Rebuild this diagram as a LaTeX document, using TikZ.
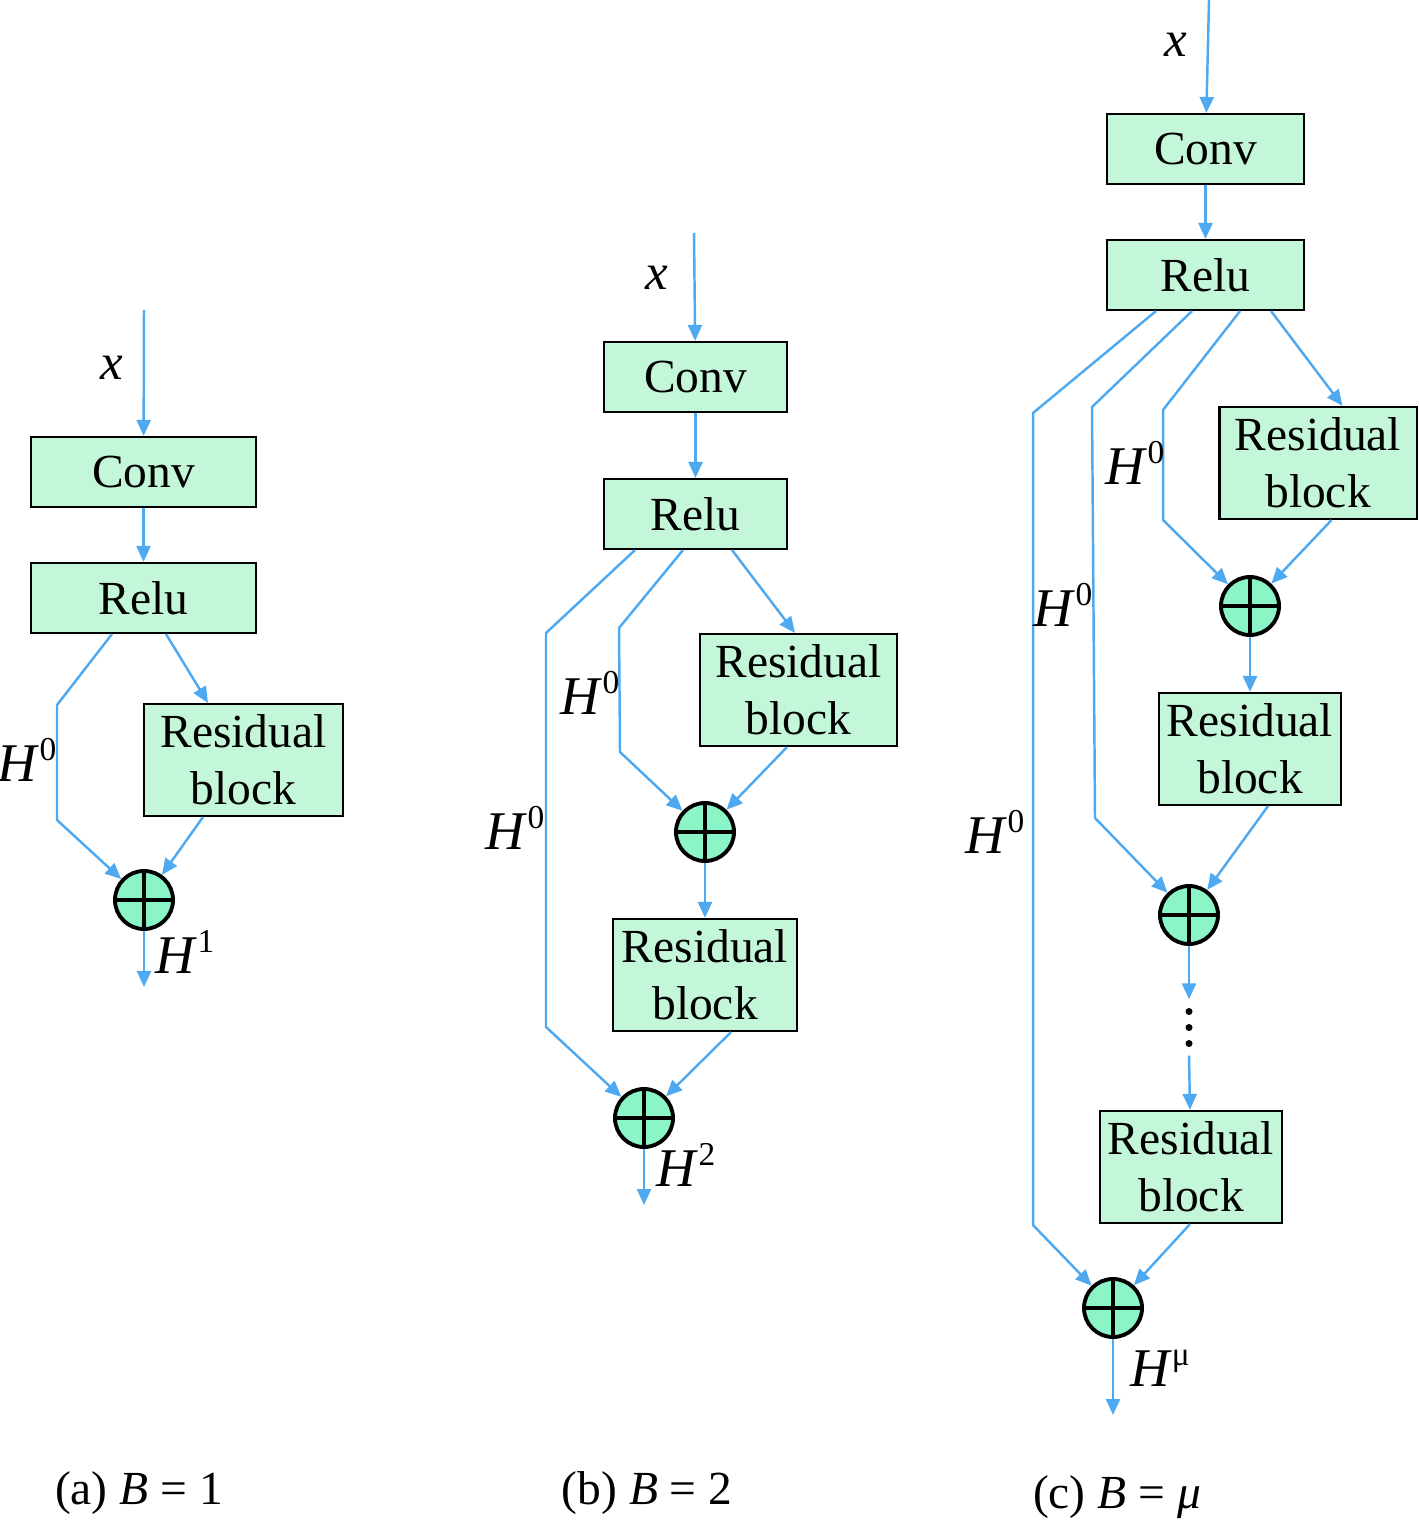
\documentclass[tikz,border=0pt]{standalone}
\usepackage{fontspec}
\setmainfont{Liberation Serif}
\usepackage{tikz}
\usetikzlibrary{arrows.meta, positioning, calc}
\definecolor{flowblue}{HTML}{4FA9F0}
\definecolor{boxgreen}{HTML}{C4F6DA}
\definecolor{addgreen}{HTML}{8CF5C8}
\newcommand{\hsup}[1]{\textit{H}\raisebox{6pt}{\fontsize{9.5}{9.5}\selectfont #1}}

\begin{document}
\begin{tikzpicture}[
    x=0.01cm, y=-0.01cm,
    blockbox/.style={rectangle, draw=black, fill=boxgreen, line width=0.6pt, inner sep=0pt, minimum height=0.7cm, align=center, font=\fontsize{13.5}{16.2}\selectfont},
    adder/.style={circle, draw=black, fill=addgreen, line width=1.1pt, minimum size=0.58cm, inner sep=0pt,
        path picture={\draw[line width=1.1pt] (path picture bounding box.north) -- (path picture bounding box.south) (path picture bounding box.west) -- (path picture bounding box.east);}},
    flow/.style={-{Triangle[length=1.6mm, width=1.4mm]}, line width=0.7pt, color=flowblue},
    lab/.style={inner sep=0pt, font=\fontsize{15.5}{15.5}\selectfont},
    caption/.style={inner sep=0pt, font=\fontsize{13.5}{13.5}\selectfont}
]
\useasboundingbox (0,0) rectangle (1418,1522);

% (a) B = 1
\coordinate (inA) at (144,310);
\coordinate (outA) at (144,987);
\node[lab, font=\fontsize{14.5}{14.5}\selectfont] (xA) at (112,368) {\textit{x}};
\node[blockbox, minimum width=2.25cm] (convA) at (143.5,472) {Conv};
\node[blockbox, minimum width=2.25cm] (reluA) at (143.5,598) {Relu};
\node[blockbox, minimum width=1.99cm, minimum height=1.12cm] (resA) at (243.5,760) {Residual\\block};
\node[adder] (addA) at (144,900) {};

\draw[flow] (inA) -- (convA);
\draw[flow] (convA) -- (reluA);
\draw[flow] ([xshift=-0.315cm]reluA.south) -- (57,705) -- (57,820) -- (addA);
\draw[flow] ([xshift=0.225cm]reluA.south) -- ([xshift=-0.355cm]resA.north);
\draw[flow] ([xshift=-0.405cm]resA.south) -- (addA);
\draw[flow] (addA) -- (outA);
\node[lab] (hA0) at (27,760) {\hsup{0}};
\node[lab] (hA1) at (185,952) {\hsup{1}};

% (b) B = 2
\coordinate (inB) at (694,233);
\coordinate (outB) at (644,1205);
\node[lab, font=\fontsize{14.5}{14.5}\selectfont] (xB) at (657,278) {\textit{x}};
\node[blockbox, minimum width=1.83cm] (convB) at (695.5,377) {Conv};
\node[blockbox, minimum width=1.83cm] (reluB) at (695.5,514) {Relu};
\node[blockbox, minimum width=1.97cm, minimum height=1.12cm] (resB1) at (798.5,690) {Residual\\block};
\node[adder] (addB1) at (705,832) {};
\node[blockbox, minimum width=1.84cm, minimum height=1.12cm] (resB2) at (705,975) {Residual\\block};
\node[adder] (addB2) at (644,1118) {};

\draw[flow] (inB) -- (convB);
\draw[flow] (convB) -- (reluB);
\draw[flow] ([xshift=-0.605cm]reluB.south) -- (546,633) -- (546,1027) -- (addB2);
\draw[flow] ([xshift=-0.125cm]reluB.south) -- (619,628) -- (620,752) -- (addB1);
\draw[flow] ([xshift=0.365cm]reluB.south) -- ([xshift=-0.035cm]resB1.north);
\draw[flow] ([xshift=-0.115cm]resB1.south) -- (addB1);
\draw[flow] (addB1) -- (resB2);
\draw[flow] ([xshift=0.26cm]resB2.south) -- (addB2);
\draw[flow] (addB2) -- (outB);
\node[lab] (hB1) at (590,693) {\hsup{0}};
\node[lab] (hB2) at (515,828) {\hsup{0}};
\node[lab] (hB3) at (686,1165) {\hsup{2}};

% (c) B = mu
\coordinate (inC) at (1209,0);
\coordinate (outC) at (1113,1415);
\node[lab, font=\fontsize{14.5}{14.5}\selectfont] (xC) at (1176,45) {\textit{x}};
\node[blockbox, minimum width=1.97cm] (convC) at (1205.5,149) {Conv};
\node[blockbox, minimum width=1.97cm] (reluC) at (1205.5,275) {Relu};
\node[blockbox, minimum width=1.97cm, minimum height=1.12cm] (resC1) at (1318,463) {Residual\\block};
\node[adder] (addC1) at (1250,606) {};
\node[blockbox, minimum width=1.82cm, minimum height=1.12cm] (resC2) at (1250,749) {Residual\\block};
\node[adder] (addC2) at (1189,915) {};
\node[inner sep=0pt, minimum width=0.2cm, minimum height=0.55cm] (gap) at (1189,1027.5) {};
\node[blockbox, minimum width=1.82cm, minimum height=1.12cm] (resC3) at (1191,1167) {Residual\\block};
\node[adder] (addC3) at (1113,1308) {};

\draw[flow] (inC) -- (convC);
\draw[flow] (convC) -- (reluC);
\draw[flow] ([xshift=-0.495cm]reluC.south) -- (1033,413) -- (1033,1225) -- (addC3);
\draw[flow] ([xshift=-0.135cm]reluC.south) -- (1092,407) -- (1095,818) -- (addC2);
\draw[flow] ([xshift=0.345cm]reluC.south) -- (1163,410) -- (1163,520) -- (addC1);
\draw[flow] ([xshift=0.655cm]reluC.south) -- ([xshift=0.245cm]resC1.north);
\draw[flow] ([xshift=0.135cm]resC1.south) -- (addC1);
\draw[flow] (addC1) -- (resC2);
\draw[flow] ([xshift=0.18cm]resC2.south) -- (addC2);
\draw[flow] (addC2) -- (gap.north);
\foreach \dy in {-16,0,16}
    \fill (gap.center) ++(0,\dy) circle (1pt);
\draw[flow] (gap.south) -- (resC3);
\draw[flow] ([xshift=-0.01cm]resC3.south) -- (addC3);
\draw[flow] (addC3) -- (outC);
\node[lab] (hC1) at (1135,463) {\hsup{0}};
\node[lab] (hC2) at (1063,605) {\hsup{0}};
\node[lab] (hC3) at (995,832) {\hsup{0}};
\node[lab] (hC4) at (1160,1368) {\hsup{μ}};

% captions
\node[caption] (capA) at (139,1493) {(a) \textit{B} = 1};
\node[caption] (capB) at (647,1493) {(b) \textit{B} = 2};
\node[caption] (capC) at (1117,1497) {(c) \textit{B} = \textit{μ}};
\end{tikzpicture}
\end{document}
